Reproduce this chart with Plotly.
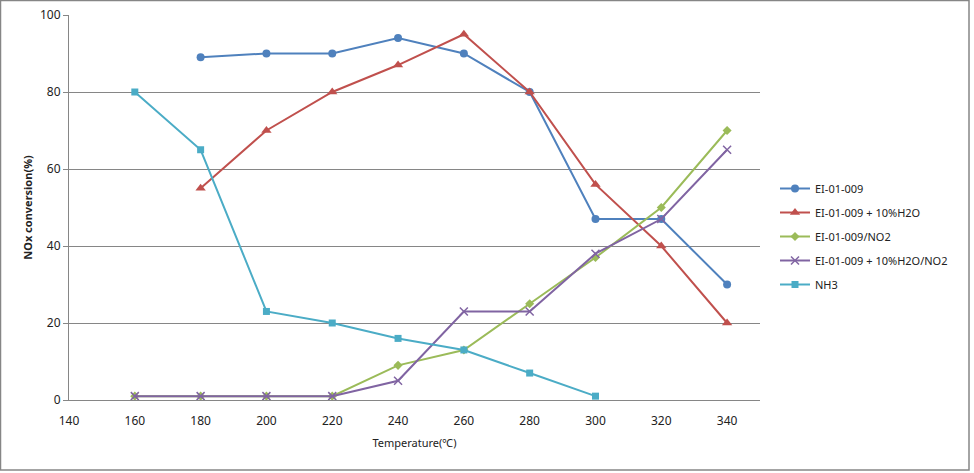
import plotly.graph_objects as go

temps_all = [160, 180, 200, 220, 240, 260, 280, 300, 320, 340]
temps_ei = [180, 200, 220, 240, 260, 280, 300, 320, 340]
temps_nh3 = [160, 180, 200, 220, 240, 260, 280, 300]

ei = [89, 90, 90, 94, 90, 80, 47, 47, 30]
ei_h2o = [55, 70, 80, 87, 95, 80, 56, 40, 20]
ei_no2 = [1, 1, 1, 1, 9, 13, 25, 37, 50, 70]
ei_h2o_no2 = [1, 1, 1, 1, 5, 23, 23, 38, 47, 65]
nh3 = [80, 65, 23, 20, 16, 13, 7, 1]

names = ["EI-01-009", "EI-01-009 + 10%H2O", "EI-01-009/NO2", "EI-01-009 + 10%H2O/NO2", "NH3"]
colors = ["#4F81BD", "#C0504D", "#9BBB59", "#8064A2", "#4BACC6"]
symbols = ["circle", "triangle-up", "diamond", "x-thin-open", "square"]
sizes = [8, 9, 7, 8, 7]
xs = [temps_ei, temps_ei, temps_all, temps_all, temps_nh3]
ys = [ei, ei_h2o, ei_no2, ei_h2o_no2, nh3]

FONT = "Noto Sans, Noto Sans CJK KR, sans-serif"
fig = go.Figure()
for i in range(5):
    fig.add_trace(go.Scatter(
        x=xs[i], y=ys[i], name=names[i], mode="lines+markers",
        legendgroup=str(i),
        line=dict(color=colors[i], width=2),
        marker=dict(symbol=symbols[i], size=sizes[i], color=colors[i],
                    line=dict(color=colors[i], width=1.5 if i == 3 else 0)),
    ))

L, R, T, B = 69, 214, 15, 73
W, H = 974, 473
pw, ph = W - L - R, H - T - B
fig.update_layout(
    width=W, height=H,
    margin=dict(l=L, r=R, t=T, b=B, autoexpand=False),
    paper_bgcolor="white", plot_bgcolor="white",
    font=dict(family=FONT, size=12, color="#222222"),
    showlegend=True,
    legend=dict(x=(775 - L) / pw, y=(400 - 174) / ph, xanchor="left", yanchor="top",
                traceorder="grouped", tracegroupgap=5,
                font=dict(size=11, color="#222222"), bgcolor="rgba(0,0,0,0)"),
    xaxis=dict(range=[140, 350], tickmode="array", tickvals=list(range(140, 341, 20)),
               showgrid=False, zeroline=False, showline=True, linecolor="#868686",
               linewidth=1, ticks="outside", ticklen=10, tickcolor="rgba(0,0,0,0)",
               automargin=False,
               title=dict(text="Temperature(℃)", font=dict(size=11), standoff=10),
               tickfont=dict(size=12)),
    yaxis=dict(range=[0, 100], tickmode="array", tickvals=[0, 20, 40, 60, 80, 100],
               showgrid=True, gridcolor="#868686", gridwidth=1, zeroline=False,
               showline=True, linecolor="#868686", linewidth=1,
               ticks="outside", ticklen=5, tickcolor="#868686",
               automargin=False,
               title=dict(text="<b>NOx conversion(%)</b>", font=dict(size=11), standoff=5),
               tickfont=dict(size=12)),
)
fig.add_shape(type="rect", xref="paper", yref="paper",
              x0=(0.5 - L) / pw, x1=(969 - L) / pw,
              y0=(H - B - 470) / ph, y1=(H - B - 0.5) / ph,
              line=dict(color="#868686", width=1.5), layer="below")
fig.write_html("out.html")
